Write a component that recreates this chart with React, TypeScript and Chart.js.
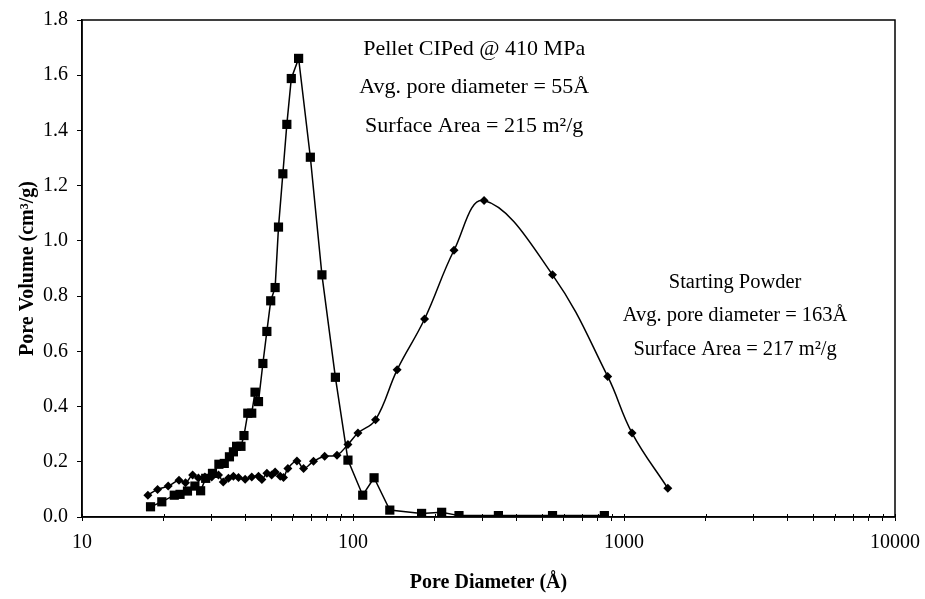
import React, { useEffect, useRef } from "react";
import { Chart, registerables } from "chart.js";

Chart.register(...registerables);

// Starting Powder (diamonds)
const powderDiameter = [
  17.5, 19.0, 20.8, 22.8, 24.1, 25.6, 26.9, 28.4, 30.1, 31.9, 33.2, 34.7, 36.2, 37.8,
  40.0, 42.3, 44.8, 46.1, 48.1, 50.1, 51.6, 53.9, 55.4, 57.5, 62.1, 65.7, 71.5, 78.6,
  87.3, 95.8, 104.3, 121.1, 145.5, 183.7, 235.9, 304.6, 544.8, 870.6, 1071, 1451,
];
const powderVolume = [
  0.079, 0.1, 0.112, 0.133, 0.124, 0.152, 0.141, 0.145, 0.145, 0.152, 0.127, 0.14, 0.148, 0.143,
  0.137, 0.145, 0.148, 0.136, 0.158, 0.152, 0.163, 0.148, 0.143, 0.176, 0.203, 0.176, 0.202, 0.22,
  0.224, 0.263, 0.304, 0.352, 0.533, 0.717, 0.966, 1.146, 0.877, 0.509, 0.304, 0.104,
];

// Pellet CIPed @ 410 MPa (squares)
const pelletDiameter = [
  17.9, 19.7, 21.9, 23.0, 24.5, 26.1, 27.4, 28.6, 30.3, 32.0, 33.5, 35.0, 36.2, 37.2,
  38.6, 39.6, 40.9, 42.3, 43.5, 44.8, 46.5, 48.1, 49.7, 51.6, 53.1, 55.1, 57.0, 59.2,
  63.0, 69.6, 76.8, 86.1, 95.8, 108.6, 119.6, 136.7, 179.1, 212.4, 246.1, 344.0, 544.8, 846.4,
];
const pelletVolume = [
  0.037, 0.055, 0.079, 0.082, 0.094, 0.112, 0.095, 0.14, 0.158, 0.191, 0.194, 0.218, 0.236, 0.256,
  0.256, 0.295, 0.376, 0.376, 0.452, 0.418, 0.556, 0.672, 0.783, 0.831, 1.05, 1.243, 1.422, 1.588,
  1.661, 1.303, 0.877, 0.506, 0.206, 0.079, 0.142, 0.025, 0.013, 0.017, 0.005, 0.005, 0.005, 0.005,
];

const xMajorTicks = [10, 100, 1000, 10000];
const yMin = 0;
const yMax = 1.8;
const yStep = 0.2;

const pelletNote = ["Pellet CIPed @ 410 MPa", "Avg. pore diameter = 55Å", "Surface Area = 215 m²/g"];
const powderNote = ["Starting Powder", "Avg. pore diameter = 163Å", "Surface Area = 217 m²/g"];

const FONT = "'Liberation Serif', 'Times New Roman', serif";

export default function App() {
  const ref = useRef<HTMLCanvasElement | null>(null);

  useEffect(() => {
    document.body.style.margin = "0";
    const canvas = ref.current;
    if (!canvas) return;

    const xTicksAll: number[] = [];
    for (let d = 10; d < 10000; d *= 10) {
      for (let m = 1; m < 10; m++) xTicksAll.push(m * d);
    }
    xTicksAll.push(10000);

    const framePlugin = {
      id: "frame",
      afterDraw(chart: any) {
        const { ctx, chartArea } = chart;
        const xs = chart.scales.x;
        const ys = chart.scales.y;
        ctx.save();
        ctx.strokeStyle = "#000";
        ctx.lineWidth = 1.5;
        ctx.strokeRect(chartArea.left, chartArea.top, chartArea.right - chartArea.left, chartArea.bottom - chartArea.top);
        // inner part of x ticks (ticks cross the axis)
        ctx.lineWidth = 1;
        for (const t of xs.ticks) {
          const px = Math.round(xs.getPixelForValue(t.value)) + 0.5;
          ctx.beginPath();
          ctx.moveTo(px, chartArea.bottom);
          ctx.lineTo(px, chartArea.bottom - 3);
          ctx.stroke();
        }
        // annotations
        ctx.fillStyle = "#000";
        ctx.textAlign = "center";
        ctx.textBaseline = "middle";
        const drawBlock = (lines: string[], xv: number, yv: number, gap: number, size: number) => {
          ctx.font = `${size}px ${FONT}`;
          const cx = xs.getPixelForValue(xv);
          const cy = ys.getPixelForValue(yv);
          lines.forEach((s, i) => ctx.fillText(s, cx, cy + i * gap));
        };
        drawBlock(pelletNote, 280, 1.695, 38.5, 22);
        drawBlock(powderNote, 2570, 0.85, 33.5, 20.5);
        ctx.restore();
      },
    };

    const chart = new Chart(canvas, {
      type: "line",
      data: {
        datasets: [
          {
            label: "Pellet CIPed @ 410 MPa",
            data: pelletDiameter.map((x, i) => ({ x, y: pelletVolume[i] })),
            borderColor: "#000",
            backgroundColor: "#000",
            borderWidth: 1.5,
            pointStyle: "rect",
            pointRadius: 6.5,
            pointBorderWidth: 0,
            tension: 0,
          },
          {
            label: "Starting Powder",
            data: powderDiameter.map((x, i) => ({ x, y: powderVolume[i] })),
            borderColor: "#000",
            backgroundColor: "#000",
            borderWidth: 1.5,
            pointStyle: "rectRot",
            pointRadius: 4.5,
            pointBorderWidth: 0,
            tension: 0.4,
          },
        ],
      },
      options: {
        animation: false,
        responsive: false,
        maintainAspectRatio: false,
        layout: { padding: { top: 20, right: 30, left: 0, bottom: 0 } },
        plugins: { legend: { display: false }, tooltip: { enabled: false } },
        scales: {
          x: {
            type: "logarithmic",
            min: 10,
            max: 10000,
            afterBuildTicks: (scale: any) => {
              scale.ticks = xTicksAll.map((v) => ({ value: v }));
            },
            afterFit: (scale: any) => {
              scale.height = 82;
              scale.paddingLeft = 0;
              scale.paddingRight = 0;
            },
            ticks: {
              autoSkip: false,
              maxRotation: 0,
              padding: 10,
              color: "#000",
              font: { family: FONT, size: 20 },
              callback: (v: any) => (xMajorTicks.includes(Number(v)) ? String(v) : ""),
            },
            grid: { drawOnChartArea: false, drawTicks: true, tickLength: 4, color: "#000", lineWidth: 1 },
            border: { color: "#000", width: 1.5 },
            title: {
              display: true,
              text: "Pore Diameter (Å)",
              color: "#000",
              font: { family: FONT, size: 20, weight: "bold" },
              padding: { top: 0, bottom: 4 },
            },
          },
          y: {
            type: "linear",
            min: yMin,
            max: yMax,
            afterFit: (scale: any) => {
              scale.width = 82;
              scale.paddingTop = 0;
              scale.paddingBottom = 0;
            },
            ticks: {
              stepSize: yStep,
              padding: 9,
              color: "#000",
              font: { family: FONT, size: 20 },
              callback: (v: any) => Number(v).toFixed(1),
            },
            grid: { drawOnChartArea: false, drawTicks: true, tickLength: 5, color: "#000", lineWidth: 1 },
            border: { color: "#000", width: 1.5 },
            title: {
              display: true,
              text: "Pore Volume (cm³/g)",
              color: "#000",
              font: { family: FONT, size: 20, weight: "bold" },
              padding: { top: 16, bottom: 0 },
            },
          },
        },
      },
      plugins: [framePlugin],
    } as any);

    return () => chart.destroy();
  }, []);

  return (
    <div style={{ width: 925, height: 599 }}>
      <canvas ref={ref} width={925} height={599} style={{ display: "block" }} />
    </div>
  );
}
